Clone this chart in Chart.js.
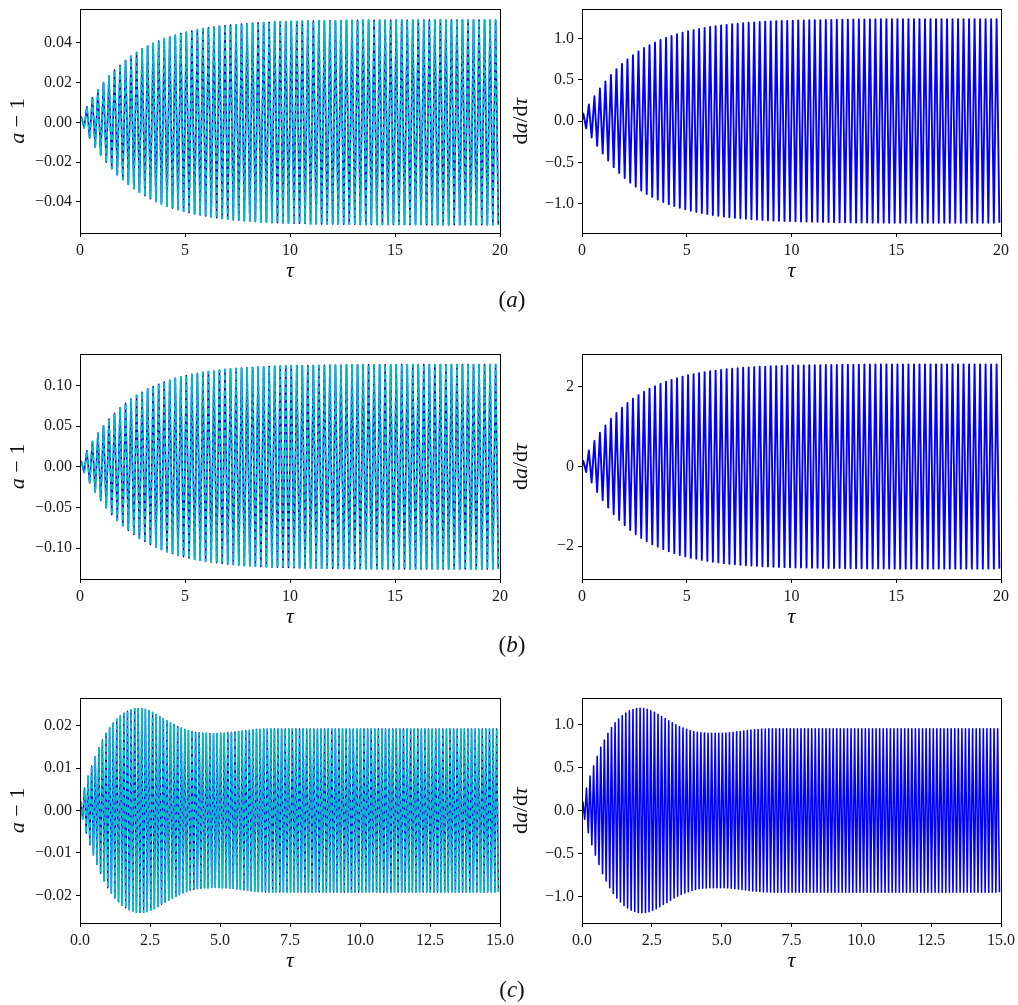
<!DOCTYPE html>
<html>
<head>
<meta charset="utf-8">
<script src="https://cdn.jsdelivr.net/npm/chart.js@4.4.1/dist/chart.umd.min.js"></script>
<style>
  body { margin: 0; background: #fff; width: 1018px; height: 1005px; position: relative; overflow: hidden; }
  canvas { position: absolute; }
  .tag { position: absolute; left: 472px; width: 80px; text-align: center; font: 23px "Liberation Serif", "DejaVu Serif", serif; line-height: 26px; color: #111; }
</style>
</head>
<body>
<canvas id="aR" width="508" height="290" style="left:510px;top:0"></canvas>
<canvas id="bR" width="508" height="291" style="left:510px;top:345px"></canvas>
<canvas id="cR" width="508" height="291" style="left:510px;top:689px"></canvas>
<canvas id="aL" width="525" height="290" style="left:0;top:0"></canvas>
<canvas id="bL" width="525" height="291" style="left:0;top:345px"></canvas>
<canvas id="cL" width="525" height="291" style="left:0;top:689px"></canvas>
<div class="tag" style="top:287px">(<i>a</i>)</div>
<div class="tag" style="top:632px">(<i>b</i>)</div>
<div class="tag" style="top:977px">(<i>c</i>)</div>
<script>
/*-------------------------
  data
  (one amplitude per oscillation cycle)
--------------------------*/
// oscillation period in tau
var periodA = 0.263;
var periodB = 0.263;
var periodC = 0.128;

// (a) a - 1
var ampA = [
  0.0027, 0.0078, 0.0124, 0.0164, 0.0200, 0.0233, 0.0263, 0.0288, 0.0312, 0.0333,
  0.0352, 0.0369, 0.0384, 0.0398, 0.0410, 0.0421, 0.0431, 0.0439, 0.0447, 0.0454,
  0.0460, 0.0466, 0.0471, 0.0476, 0.0480, 0.0484, 0.0487, 0.0490, 0.0492, 0.0495,
  0.0497, 0.0499, 0.0501, 0.0502, 0.0504, 0.0505, 0.0506, 0.0507, 0.0508, 0.0508,
  0.0509, 0.0510, 0.0510, 0.0511, 0.0511, 0.0512, 0.0512, 0.0513, 0.0513, 0.0513,
  0.0514, 0.0514, 0.0514, 0.0514, 0.0514, 0.0514, 0.0514, 0.0514, 0.0514, 0.0514,
  0.0514, 0.0514, 0.0515, 0.0515, 0.0515, 0.0515, 0.0515, 0.0515, 0.0515, 0.0515,
  0.0515, 0.0515, 0.0515, 0.0515, 0.0515, 0.0515
];
// (a) da/dtau
var ampAd = [
  0.090, 0.200, 0.300, 0.393, 0.479, 0.558, 0.628, 0.689, 0.746, 0.796,
  0.842, 0.883, 0.918, 0.950, 0.980, 1.006, 1.029, 1.050, 1.069, 1.086,
  1.100, 1.114, 1.126, 1.137, 1.147, 1.156, 1.163, 1.171, 1.177, 1.183,
  1.188, 1.193, 1.197, 1.200, 1.204, 1.206, 1.209, 1.211, 1.214, 1.215,
  1.217, 1.219, 1.220, 1.221, 1.222, 1.224, 1.225, 1.226, 1.227, 1.228,
  1.229, 1.229, 1.230, 1.230, 1.231, 1.231, 1.231, 1.232, 1.232, 1.232,
  1.232, 1.232, 1.232, 1.232, 1.232, 1.232, 1.232, 1.232, 1.232, 1.232,
  1.232, 1.232, 1.232, 1.232, 1.232, 1.232
];
// (b) a - 1
var ampB = [
  0.0069, 0.0196, 0.0312, 0.0414, 0.0503, 0.0587, 0.0658, 0.0722, 0.0781, 0.0832,
  0.0877, 0.0917, 0.0955, 0.0986, 0.1015, 0.1042, 0.1064, 0.1086, 0.1104, 0.1121,
  0.1135, 0.1147, 0.1160, 0.1170, 0.1178, 0.1187, 0.1195, 0.1201, 0.1207, 0.1212,
  0.1216, 0.1221, 0.1225, 0.1227, 0.1231, 0.1234, 0.1236, 0.1237, 0.1240, 0.1241,
  0.1242, 0.1243, 0.1244, 0.1245, 0.1246, 0.1247, 0.1248, 0.1249, 0.1250, 0.1251,
  0.1252, 0.1252, 0.1253, 0.1253, 0.1254, 0.1254, 0.1254, 0.1255, 0.1255, 0.1255,
  0.1255, 0.1255, 0.1255, 0.1255, 0.1255, 0.1255, 0.1255, 0.1255, 0.1255, 0.1255,
  0.1255, 0.1255, 0.1255, 0.1255, 0.1255, 0.1255
];
// (b) da/dtau
var ampBd = [
  0.141, 0.401, 0.640, 0.848, 1.031, 1.203, 1.347, 1.478, 1.599, 1.704,
  1.796, 1.879, 1.956, 2.020, 2.079, 2.133, 2.179, 2.223, 2.262, 2.295,
  2.323, 2.349, 2.375, 2.395, 2.413, 2.431, 2.447, 2.459, 2.472, 2.483,
  2.490, 2.501, 2.508, 2.513, 2.521, 2.526, 2.531, 2.534, 2.539, 2.541,
  2.544, 2.546, 2.548, 2.550, 2.552, 2.554, 2.556, 2.558, 2.560, 2.562,
  2.563, 2.564, 2.565, 2.566, 2.567, 2.568, 2.569, 2.570, 2.570, 2.570,
  2.570, 2.570, 2.570, 2.570, 2.570, 2.570, 2.570, 2.570, 2.570, 2.570,
  2.570, 2.570, 2.570, 2.570, 2.570, 2.570
];
// (c) a - 1
var ampC = [
  0.0020, 0.0053, 0.0081, 0.0105, 0.0127, 0.0148, 0.0166, 0.0182, 0.0195, 0.0206,
  0.0215, 0.0223, 0.0229, 0.0234, 0.0237, 0.0240, 0.0240, 0.0240, 0.0238, 0.0235,
  0.0231, 0.0226, 0.0221, 0.0216, 0.0211, 0.0206, 0.0202, 0.0198, 0.0194, 0.0191,
  0.0188, 0.0186, 0.0184, 0.0183, 0.0182, 0.0182, 0.0181, 0.0181, 0.0181, 0.0182,
  0.0182, 0.0183, 0.0184, 0.0185, 0.0186, 0.0187, 0.0188, 0.0189, 0.0190, 0.0191,
  0.0191, 0.0192, 0.0192, 0.0192, 0.0192, 0.0192, 0.0192, 0.0192, 0.0192, 0.0192,
  0.0192, 0.0192, 0.0192, 0.0192, 0.0192, 0.0192, 0.0192, 0.0192, 0.0192, 0.0192,
  0.0192, 0.0192, 0.0192, 0.0192, 0.0192, 0.0192, 0.0192, 0.0192, 0.0192, 0.0192,
  0.0192, 0.0192, 0.0192, 0.0192, 0.0192, 0.0192, 0.0192, 0.0192, 0.0192, 0.0192,
  0.0192, 0.0192, 0.0192, 0.0192, 0.0192, 0.0192, 0.0192, 0.0192, 0.0192, 0.0192,
  0.0192, 0.0192, 0.0192, 0.0192, 0.0192, 0.0192, 0.0192, 0.0192, 0.0192, 0.0192,
  0.0192, 0.0192, 0.0192, 0.0192, 0.0192, 0.0192, 0.0192
];
// (c) da/dtau
var ampCd = [
  0.100, 0.260, 0.400, 0.520, 0.630, 0.735, 0.820, 0.900, 0.965, 1.020,
  1.065, 1.105, 1.135, 1.160, 1.175, 1.187, 1.190, 1.188, 1.178, 1.162,
  1.143, 1.120, 1.095, 1.070, 1.045, 1.020, 0.998, 0.978, 0.960, 0.945,
  0.932, 0.920, 0.912, 0.906, 0.902, 0.899, 0.898, 0.898, 0.898, 0.899,
  0.901, 0.905, 0.910, 0.915, 0.920, 0.926, 0.932, 0.937, 0.941, 0.944,
  0.947, 0.949, 0.950, 0.951, 0.952, 0.952, 0.952, 0.952, 0.952, 0.952,
  0.952, 0.952, 0.952, 0.952, 0.952, 0.952, 0.952, 0.952, 0.952, 0.952,
  0.952, 0.952, 0.952, 0.952, 0.952, 0.952, 0.952, 0.952, 0.952, 0.952,
  0.952, 0.952, 0.952, 0.952, 0.952, 0.952, 0.952, 0.952, 0.952, 0.952,
  0.952, 0.952, 0.952, 0.952, 0.952, 0.952, 0.952, 0.952, 0.952, 0.952,
  0.952, 0.952, 0.952, 0.952, 0.952, 0.952, 0.952, 0.952, 0.952, 0.952,
  0.952, 0.952, 0.952, 0.952, 0.952, 0.952, 0.952
];

// tick labels
var xTicksAB = [0, 5, 10, 15, 20];
var xTicksC = [0, 2.5, 5, 7.5, 10, 12.5, 15];
var yTicksA = [-0.04, -0.02, 0, 0.02, 0.04];
var yTicksAd = [-1, -0.5, 0, 0.5, 1];
var yTicksB = [-0.1, -0.05, 0, 0.05, 0.1];
var yTicksBd = [-2, 0, 2];
var yTicksC = [-0.02, -0.01, 0, 0.01, 0.02];
var yTicksCd = [-1, -0.5, 0, 0.5, 1];

/*-------------------------
  helpers
--------------------------*/
var SERIF = '"Liberation Serif", "DejaVu Serif", serif';

// zigzag through the extrema of each cycle
function cyclePoints(amp, period) {
  var pts = [{ x: 0, y: 0 }];
  amp.forEach(function (A, k) {
    pts.push({ x: (k + 0.25) * period, y: A });
    pts.push({ x: (k + 0.75) * period, y: -A });
  });
  return pts;
}

function fmt(v, dec) {
  return v.toFixed(dec).replace('-', '\u2212');
}

// frame + axis titles with mixed italic
var axisText = {
  id: 'axisText',
  afterDraw: function (chart, args, o) {
    var ctx = chart.ctx, a = chart.chartArea;
    ctx.save();
    ctx.strokeStyle = '#000';
    ctx.lineWidth = 1;
    ctx.strokeRect(Math.round(a.left) + 0.5, Math.round(a.top) + 0.5,
      Math.round(a.right - a.left), Math.round(a.bottom - a.top));
    drawSegs(ctx, o.y, o.yx, (a.top + a.bottom) / 2, true);
    drawSegs(ctx, [['\u03c4', 1]], (a.left + a.right) / 2, a.bottom + 38, false);
    ctx.restore();
  }
};

function drawSegs(ctx, segs, cx, cy, rot) {
  ctx.save();
  ctx.translate(cx, cy);
  if (rot) ctx.rotate(-Math.PI / 2);
  ctx.fillStyle = '#111';
  ctx.textBaseline = 'middle';
  ctx.textAlign = 'left';
  var w = 0;
  segs.forEach(function (s) {
    ctx.font = (s[1] ? 'italic ' : '') + '22px ' + SERIF;
    w += ctx.measureText(s[0]).width;
  });
  var x = -w / 2;
  segs.forEach(function (s) {
    ctx.font = (s[1] ? 'italic ' : '') + '22px ' + SERIF;
    ctx.fillText(s[0], x, 0);
    x += ctx.measureText(s[0]).width;
  });
  ctx.restore();
}

function scaleOpts(min, max, ticks, dec, fit) {
  return {
    type: 'linear',
    min: min,
    max: max,
    border: { display: false },
    grid: { drawOnChartArea: false, drawTicks: true, tickLength: 4, color: '#000', lineWidth: 1 },
    ticks: {
      color: '#1a1a1a',
      font: { family: SERIF, size: 16 },
      padding: 4,
      autoSkip: false,
      maxRotation: 0,
      callback: function (v) { return fmt(v, dec); }
    },
    afterBuildTicks: function (s) { s.ticks = ticks.map(function (v) { return { value: v }; }); },
    afterFit: function (s) {
      fit(s);
      s.paddingLeft = 0; s.paddingRight = 0; s.paddingTop = 0; s.paddingBottom = 0;
    }
  };
}

function makeChart(id, pts, dashed, lw, xMax, xTicks, xDec, yMin, yMax, yTicks, yDec, side, ySegs) {
  var datasets;
  if (dashed) {
    datasets = [
      { data: pts, borderColor: '#00bfbf', borderWidth: lw + 0.3, borderDash: [5.5, 2.4], order: 0 },
      { data: pts, borderColor: '#0000ff', borderWidth: lw, order: 1 }
    ];
  } else {
    datasets = [{ data: pts, borderColor: '#0000ff', borderWidth: lw }];
  }
  datasets.forEach(function (d) {
    d.pointRadius = 0;
    d.tension = 0;
    d.fill = false;
    d.borderJoinStyle = 'round';
  });
  var left = side === 'L';
  return new Chart(document.getElementById(id), {
    type: 'line',
    data: { datasets: datasets },
    options: {
      responsive: false,
      animation: false,
      events: [],
      layout: { padding: { top: 9, right: left ? 25 : 17, left: 0, bottom: 0 } },
      plugins: {
        legend: { display: false },
        tooltip: { enabled: false },
        axisText: { y: ySegs, yx: left ? 18 : 11 }
      },
      scales: {
        x: scaleOpts(0, xMax, xTicks, xDec, function (s) { s.height = 57; }),
        y: scaleOpts(yMin, yMax, yTicks, yDec, function (s) { s.width = left ? 80 : 72; })
      }
    },
    plugins: [axisText]
  });
}

var segA1 = [['a', 1], [' \u2212 1', 0]];
var segDa = [['d', 0], ['a', 1], ['/d', 0], ['\u03c4', 1]];

/*-------------------------
  the six panels
--------------------------*/
makeChart('aL', cyclePoints(ampA, periodA), true, 1.6, 20, xTicksAB, 0, -0.0557, 0.0571, yTicksA, 2, 'L', segA1);
makeChart('aR', cyclePoints(ampAd, periodA), false, 1.9, 20, xTicksAB, 0, -1.355, 1.355, yTicksAd, 1, 'R', segDa);
makeChart('bL', cyclePoints(ampB, periodB), true, 1.6, 20, xTicksAB, 0, -0.1378, 0.1386, yTicksB, 2, 'L', segA1);
makeChart('bR', cyclePoints(ampBd, periodB), false, 1.9, 20, xTicksAB, 0, -2.83, 2.83, yTicksBd, 0, 'R', segDa);
makeChart('cL', cyclePoints(ampC, periodC), true, 1.4, 15, xTicksC, 1, -0.0265, 0.0265, yTicksC, 2, 'L', segA1);
makeChart('cR', cyclePoints(ampCd, periodC), false, 1.6, 15, xTicksC, 1, -1.31, 1.31, yTicksCd, 1, 'R', segDa);
</script>
</body>
</html>
